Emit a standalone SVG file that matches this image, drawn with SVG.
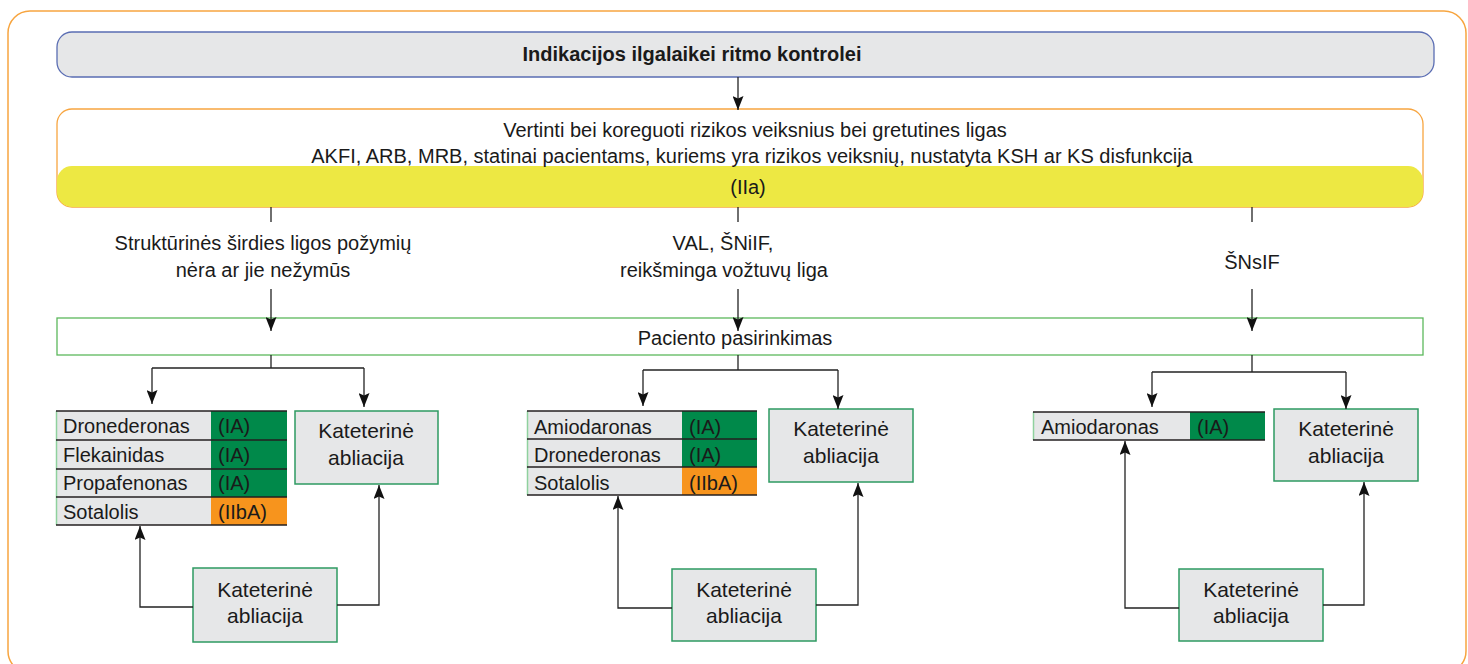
<svg xmlns="http://www.w3.org/2000/svg" width="1468" height="664" viewBox="0 0 1468 664">
  <defs>
    <marker id="arr" viewBox="0 0 14 11" refX="14" refY="5.5" markerWidth="14" markerHeight="11" markerUnits="userSpaceOnUse" orient="auto">
      <path d="M0,0 L14,5.5 L0,11 L2.5,5.5 Z" fill="#111"/>
    </marker>
    <style>
      text { font-family: "Liberation Sans", Arial, sans-serif; font-size: 20px; fill: #1a1a1a; }
      .c { text-anchor: middle; }
      .b { font-weight: bold; }
      .k { font-size: 21px; }
      .frame { fill: none; stroke: #f7a540; stroke-width: 1.5; }
      .title { fill: #e6e7e8; stroke: #5a6db3; stroke-width: 1.3; }
      .orange { fill: #fff; stroke: #f7a540; stroke-width: 1.3; }
      .yellow { fill: #ede843; }
      .pac { fill: #fff; stroke: #5cb85c; stroke-width: 1.3; }
      .kat { fill: #e6e7e8; stroke: #2e9a62; stroke-width: 1.5; }
      .name { fill: #e6e7e8; }
      .ia { fill: #00894a; }
      .iib { fill: #f7941d; }
      .rule { stroke: #231f20; stroke-width: 1.5; }
      .edge { stroke: #8fd19e; stroke-width: 1.5; }
      .conn { fill: none; stroke: #222; stroke-width: 1.3; }
    </style>
  </defs>

  <!-- outer frame -->
  <rect class="frame" x="8" y="11" width="1458" height="662" rx="22"/>

  <g id="title">
    <rect class="title" x="57" y="32" width="1377" height="45" rx="15"/>
    <text class="c b" x="692" y="61">Indikacijos ilgalaikei ritmo kontrolei</text>
  </g>

  <g id="risk">
    <rect class="orange" x="57" y="109" width="1366" height="98" rx="15"/>
    <rect class="yellow" x="57" y="166" width="1366" height="41" rx="15"/>
    <text class="c" x="755" y="137">Vertinti bei koreguoti rizikos veiksnius bei gretutines ligas</text>
    <text class="c" x="752" y="163">AKFI, ARB, MRB, statinai pacientams, kuriems yra rizikos veiksnių, nustatyta KSH ar KS disfunkcija</text>
    <text class="c" x="748" y="194">(IIa)</text>
  </g>

  <g id="labels">
    <text class="c" x="263" y="250">Struktūrinės širdies ligos požymių</text>
    <text class="c" x="263" y="277">nėra ar jie nežymūs</text>
    <text class="c" x="723" y="250">VAL, ŠNiIF,</text>
    <text class="c" x="724" y="277">reikšminga vožtuvų liga</text>
    <text class="c" x="1252" y="269">ŠNsIF</text>
  </g>

  <g id="patient">
    <rect class="pac" x="57" y="318" width="1366" height="37"/>
    <text class="c" x="735" y="345">Paciento pasirinkimas</text>
  </g>

  <!-- left column: no or minor structural heart disease -->
  <g id="table-left">
    <rect class="name" x="56" y="411" width="155" height="114"/>
    <rect class="ia" x="211" y="411" width="76" height="86"/>
    <rect class="iib" x="211" y="497" width="76" height="28"/>
    <line class="edge" x1="56.5" y1="411" x2="56.5" y2="525"/>
    <line class="rule" x1="56" y1="411" x2="287" y2="411"/>
    <line class="rule" x1="56" y1="440" x2="287" y2="440"/>
    <line class="rule" x1="56" y1="469" x2="287" y2="469"/>
    <line class="rule" x1="56" y1="497" x2="287" y2="497"/>
    <line class="rule" x1="56" y1="525" x2="287" y2="525"/>
    <text x="63" y="433">Dronederonas</text><text x="218" y="433">(IA)</text>
    <text x="63" y="462">Flekainidas</text><text x="218" y="462">(IA)</text>
    <text x="63" y="490">Propafenonas</text><text x="218" y="490">(IA)</text>
    <text x="63" y="519">Sotalolis</text><text x="218" y="519">(IIbA)</text>
  </g>
  <g id="abl-left-top">
    <rect class="kat" x="295" y="411" width="143" height="73"/>
    <text class="c k" x="366" y="438">Kateterinė</text>
    <text class="c k" x="366" y="465">abliacija</text>
  </g>
  <g id="abl-left-bottom">
    <rect class="kat" x="193" y="568" width="144" height="74"/>
    <text class="c k" x="265" y="597">Kateterinė</text>
    <text class="c k" x="265" y="623">abliacija</text>
  </g>

  <!-- middle column: valvular disease / HFmrEF -->
  <g id="table-mid">
    <rect class="name" x="527" y="411" width="155" height="84"/>
    <rect class="ia" x="682" y="411" width="75" height="56"/>
    <rect class="iib" x="682" y="467" width="75" height="28"/>
    <line class="edge" x1="527.5" y1="411" x2="527.5" y2="495"/>
    <line class="rule" x1="527" y1="411" x2="757" y2="411"/>
    <line class="rule" x1="527" y1="439" x2="757" y2="439"/>
    <line class="rule" x1="527" y1="467" x2="757" y2="467"/>
    <line class="rule" x1="527" y1="495" x2="757" y2="495"/>
    <text x="534" y="434">Amiodaronas</text><text x="689" y="434">(IA)</text>
    <text x="534" y="462">Dronederonas</text><text x="689" y="462">(IA)</text>
    <text x="534" y="490">Sotalolis</text><text x="689" y="490">(IIbA)</text>
  </g>
  <g id="abl-mid-top">
    <rect class="kat" x="769" y="409" width="144" height="73"/>
    <text class="c k" x="841" y="436">Kateterinė</text>
    <text class="c k" x="841" y="463">abliacija</text>
  </g>
  <g id="abl-mid-bottom">
    <rect class="kat" x="672" y="569" width="144" height="72"/>
    <text class="c k" x="744" y="597">Kateterinė</text>
    <text class="c k" x="744" y="623">abliacija</text>
  </g>

  <!-- right column: HFrEF -->
  <g id="table-right">
    <rect class="name" x="1033" y="412" width="157" height="28"/>
    <rect class="ia" x="1190" y="412" width="75" height="28"/>
    <line class="edge" x1="1033.5" y1="412" x2="1033.5" y2="440"/>
    <line class="rule" x1="1033" y1="412" x2="1265" y2="412"/>
    <line class="rule" x1="1033" y1="440" x2="1265" y2="440"/>
    <text x="1041" y="434">Amiodaronas</text><text x="1197" y="434">(IA)</text>
  </g>
  <g id="abl-right-top">
    <rect class="kat" x="1274" y="409" width="144" height="72"/>
    <text class="c k" x="1346" y="436">Kateterinė</text>
    <text class="c k" x="1346" y="463">abliacija</text>
  </g>
  <g id="abl-right-bottom">
    <rect class="kat" x="1179" y="569" width="144" height="72"/>
    <text class="c k" x="1251" y="597">Kateterinė</text>
    <text class="c k" x="1251" y="623">abliacija</text>
  </g>

  <g id="connectors">
    <path class="conn" d="M738,77 V110" marker-end="url(#arr)"/>
    <path class="conn" d="M271,207 V222"/>
    <path class="conn" d="M738,207 V222"/>
    <path class="conn" d="M1252,207 V222"/>
    <path class="conn" d="M271,289 V331" marker-end="url(#arr)"/>
    <path class="conn" d="M738,289 V331" marker-end="url(#arr)"/>
    <path class="conn" d="M1252,289 V331" marker-end="url(#arr)"/>

    <path class="conn" d="M271,355 V368"/>
    <path class="conn" d="M152,368 H364"/>
    <path class="conn" d="M152,368 V404" marker-end="url(#arr)"/>
    <path class="conn" d="M364,368 V407" marker-end="url(#arr)"/>
    <path class="conn" d="M193,607 H140 V526" marker-end="url(#arr)"/>
    <path class="conn" d="M337,605 H379 V485" marker-end="url(#arr)"/>

    <path class="conn" d="M738,355 V370"/>
    <path class="conn" d="M643,370 H838"/>
    <path class="conn" d="M643,370 V406" marker-end="url(#arr)"/>
    <path class="conn" d="M838,370 V409" marker-end="url(#arr)"/>
    <path class="conn" d="M672,608 H618 V496" marker-end="url(#arr)"/>
    <path class="conn" d="M816,605 H858 V483" marker-end="url(#arr)"/>

    <path class="conn" d="M1252,355 V372"/>
    <path class="conn" d="M1152,372 H1346"/>
    <path class="conn" d="M1152,372 V407" marker-end="url(#arr)"/>
    <path class="conn" d="M1346,372 V409" marker-end="url(#arr)"/>
    <path class="conn" d="M1179,608 H1125 V441" marker-end="url(#arr)"/>
    <path class="conn" d="M1323,605 H1364 V482" marker-end="url(#arr)"/>
  </g>
</svg>
